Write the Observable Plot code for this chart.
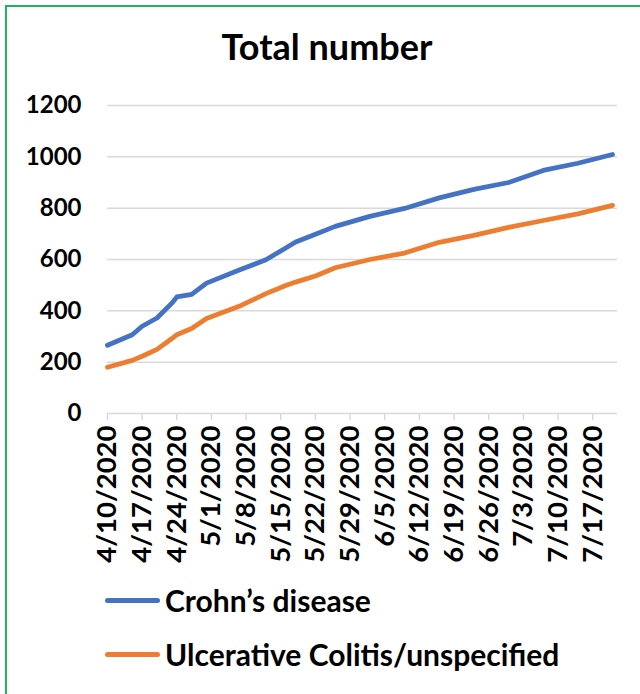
<!DOCTYPE html>
<html><head><meta charset="utf-8">
<script src="https://cdn.jsdelivr.net/npm/d3@7"></script>
<script src="https://cdn.jsdelivr.net/npm/@observablehq/plot@0.6"></script>
<style>
html,body{margin:0;padding:0;background:#fff;}
body{width:640px;height:694px;position:relative;overflow:hidden;font-family:Lato,"Open Sans",sans-serif;color:#000;}
#frame{position:absolute;left:5px;top:5px;width:700px;height:760px;border-left:2px solid #22b35e;border-top:2px solid #22b35e;box-sizing:border-box;}
#title{position:absolute;left:0;width:654px;top:24px;text-align:center;font-weight:bold;font-size:36px;line-height:44px;}
#chart{position:absolute;left:0;top:0;}
.leg{position:absolute;left:105px;display:flex;align-items:center;font-weight:bold;font-size:30px;white-space:nowrap;height:40px;}
.sw{width:55px;height:5px;border-radius:3px;margin-right:5px;}
</style></head>
<body>
<div id="frame"></div>
<div id="chart"></div>
<div id="title">Total number</div>
<div id="legend"></div>
<script>
const dates = ["4/10/2020","4/15/2020","4/17/2020","4/20/2020","4/23/2020","4/24/2020","4/27/2020","4/30/2020","5/7/2020","5/12/2020","5/16/2020","5/18/2020","5/22/2020","5/26/2020","6/2/2020","6/9/2020","6/16/2020","6/23/2020","6/30/2020","7/7/2020","7/14/2020","7/21/2020"];
const crohns = [266,307,340,372,430,454,464,508,562,599,645,668,698,729,768,799,840,873,900,947,975,1009];
const ulcerative = [180,207,223,250,292,307,331,370,421,467,499,512,536,568,600,625,667,694,725,752,778,811];
const seriesNames = ["Crohn\u2019s disease","Ulcerative Colitis/unspecified"];
const seriesColors = ["#4472C4","#ED7D31"];
const tickLabels = ["4/10/2020","4/17/2020","4/24/2020","5/1/2020","5/8/2020","5/15/2020","5/22/2020","5/29/2020","6/5/2020","6/12/2020","6/19/2020","6/26/2020","7/3/2020","7/10/2020","7/17/2020"];
const yTicks = [0,200,400,600,800,1000,1200];
const xEnd = "7/22/2020";

const parse = d3.utcParse("%m/%d/%Y");
const fmt = d => `${d.getUTCMonth()+1}/${d.getUTCDate()}/${d.getUTCFullYear()}`;
const rows = [];
dates.forEach((d,i)=>{
  rows.push({date:parse(d), value:crohns[i], series:seriesNames[0]});
  rows.push({date:parse(d), value:ulcerative[i], series:seriesNames[1]});
});

const chart = Plot.plot({
  width:640, height:570,
  marginLeft:107, marginRight:23, marginTop:105, marginBottom:157,
  style:{fontFamily:"Lato, sans-serif", fontWeight:"bold", fontSize:"24px", color:"#000", background:"transparent", overflow:"visible"},
  x:{type:"utc", domain:[parse(dates[0]), parse(xEnd)]},
  y:{domain:[0,1200]},
  color:{domain:seriesNames, range:seriesColors},
  marks:[
    Plot.gridY(yTicks.filter(v=>v>0), {stroke:"#d9d9d9", strokeOpacity:1, strokeWidth:1.5}),
    Plot.ruleY([0], {stroke:"#d9d9d9", strokeWidth:1.5}),
    Plot.axisY(yTicks, {label:null, tickSize:0, tickPadding:26, fontSize:24, fontWeight:"bold", fill:"#000", tickFormat:d=>String(d)}),
    Plot.axisX(tickLabels.map(parse), {label:null, tickSize:7, stroke:"#d9d9d9", strokeWidth:1.5, tickPadding:5, tickRotate:-90, fontSize:27.5, fontWeight:"bold", fill:"#000", tickFormat:fmt}),
    Plot.line(rows, {x:"date", y:"value", z:"series", stroke:"series", strokeWidth:4.8, strokeLinejoin:"round", strokeLinecap:"round"})
  ]
});
document.getElementById("chart").appendChild(chart);

const legend = document.getElementById("legend");
const legTops = [580, 634];
seriesNames.forEach((n,i)=>{
  const el = document.createElement("div");
  el.className = "leg";
  el.style.top = legTops[i]+"px";
  el.innerHTML = `<div class="sw" style="background:${seriesColors[i]}"></div><span>${n}</span>`;
  legend.appendChild(el);
});
</script>
</body></html>
